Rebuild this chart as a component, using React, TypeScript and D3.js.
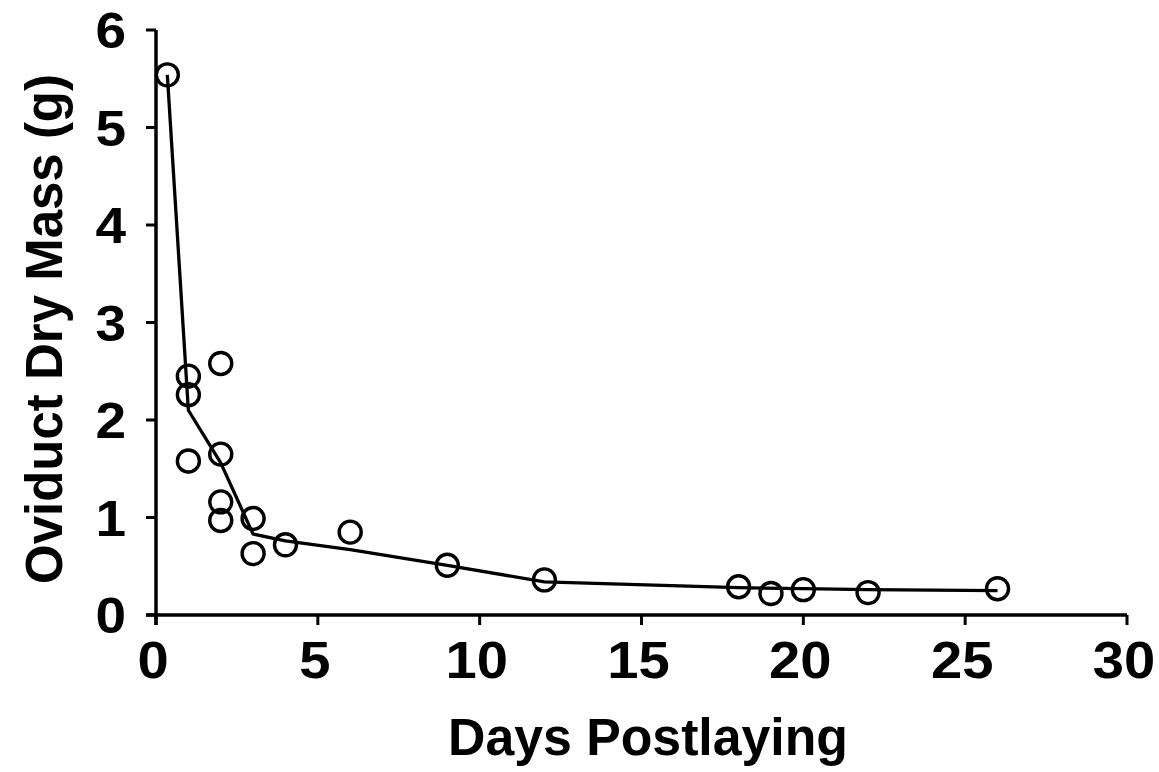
import React from "react";
import * as d3 from "d3";

const pointDays = [0.35, 1, 1, 1, 2, 2, 2, 2, 3, 3, 4, 6, 9, 12, 18, 19, 20, 22, 26];
const pointMass = [5.54, 2.45, 2.26, 1.58, 2.58, 1.65, 1.16, 0.97, 0.99, 0.63, 0.72, 0.85, 0.51, 0.36, 0.29, 0.22, 0.26, 0.23, 0.27];

const lineDays = [0.35, 1, 2, 3, 4, 6, 9, 12, 18, 20, 22, 26];
const lineMass = [5.54, 2.1, 1.56, 0.83, 0.76, 0.67, 0.51, 0.34, 0.28, 0.27, 0.26, 0.25];

const xTicks = [0, 5, 10, 15, 20, 25, 30];
const yTicks = [0, 1, 2, 3, 4, 5, 6];

const xTitle = "Days Postlaying";
const yTitle = "Oviduct Dry Mass (g)";

export default function App() {
  const W = 1159;
  const H = 772;
  const x = d3.scaleLinear().domain([0, 30]).range([156, 1127]);
  const y = d3.scaleLinear().domain([0, 6]).range([615, 30]);
  const line = d3
    .line<number>()
    .x((_, i) => x(lineDays[i]))
    .y((d) => y(d));
  const font = "'Liberation Sans', Arial, Helvetica, sans-serif";
  const sw = 3.5;
  return (
    <svg
      width={W}
      height={H}
      style={{ position: "absolute", left: 0, top: 0, background: "#fff" }}
    >
      {/* axes */}
      <line x1={x(0)} y1={y(6)} x2={x(0)} y2={y(0) + 10} stroke="#000" strokeWidth={sw} />
      <line x1={x(0) - 10} y1={y(0)} x2={x(30)} y2={y(0)} stroke="#000" strokeWidth={sw} />
      {yTicks.map((t) => (
        <g key={"y" + t}>
          <line x1={x(0) - 10} x2={x(0)} y1={y(t)} y2={y(t)} stroke="#000" strokeWidth={3} />
          <text
            transform={`translate(126,${y(t)}) scale(1.1,1)`}
            dy="0.36em"
            textAnchor="end"
            fontFamily={font}
            fontWeight="bold"
            fontSize={50}
          >
            {t}
          </text>
        </g>
      ))}
      {xTicks.map((t) => (
        <g key={"x" + t}>
          <line x1={x(t)} x2={x(t)} y1={y(0)} y2={y(0) + 10} stroke="#000" strokeWidth={3} />
          <text
            transform={`translate(${x(t) - 3},678) scale(1.08,1)`}
            textAnchor="middle"
            fontFamily={font}
            fontWeight="bold"
            fontSize={52}
          >
            {t}
          </text>
        </g>
      ))}
      <text
        x={648}
        y={755}
        textAnchor="middle"
        fontFamily={font}
        fontWeight="bold"
        fontSize={51}
        textLength={400}
        lengthAdjust="spacingAndGlyphs"
      >
        {xTitle}
      </text>
      <text
        transform={`translate(62,${329}) rotate(-90)`}
        textAnchor="middle"
        fontFamily={font}
        fontWeight="bold"
        fontSize={51}
        textLength={510}
        lengthAdjust="spacingAndGlyphs"
      >
        {yTitle}
      </text>
      {/* fitted line */}
      <path d={line(lineMass) || ""} fill="none" stroke="#000" strokeWidth={3.3} strokeLinejoin="round" />
      {/* points */}
      {pointMass.map((m, i) => (
        <circle
          key={i}
          cx={x(pointDays[i])}
          cy={y(m)}
          r={11}
          fill="none"
          stroke="#000"
          strokeWidth={3.4}
        />
      ))}
    </svg>
  );
}
